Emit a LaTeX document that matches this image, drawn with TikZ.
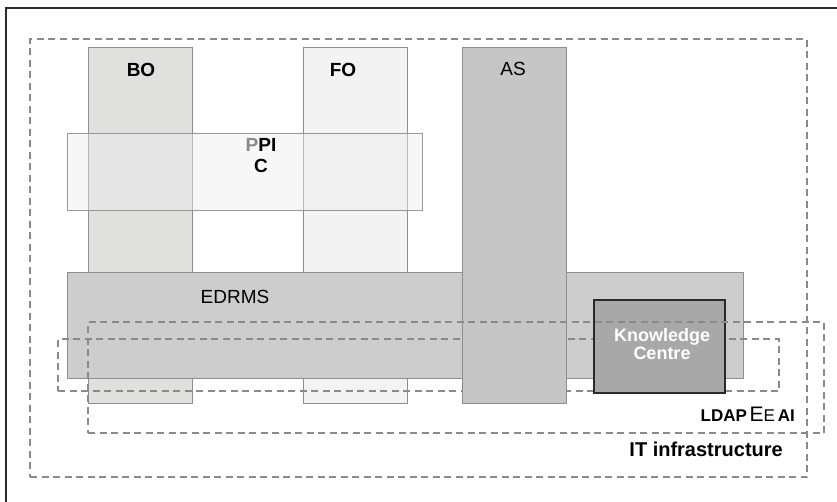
\documentclass[tikz,border=0pt]{standalone}
\usepackage{fontspec}
\setmainfont{Liberation Sans}
\definecolor{boC}{HTML}{E0E0DF}
\definecolor{foC}{HTML}{F2F3F2}
\definecolor{asC}{HTML}{C6C6C6}
\definecolor{edC}{HTML}{CDCDCD}
\definecolor{kcC}{HTML}{A8A8A8}
\definecolor{ppC}{HTML}{EDEEED}
\definecolor{edgeC}{HTML}{8E8E8E}
\definecolor{dashC}{HTML}{8A8A8A}
\definecolor{frameC}{HTML}{2A2A2A}
\begin{document}
\begin{tikzpicture}[x=1pt,y=-1pt,
  box/.style={draw=edgeC, line width=1pt, anchor=north west, inner sep=0pt, outer sep=0pt},
  zone/.style={draw=dashC, line width=1.6pt, dash pattern=on 7pt off 4.5pt, anchor=north west, inner sep=0pt, outer sep=0pt},
  lab/.style={inner sep=0pt, font=\fontsize{19}{21}\selectfont},
  blab/.style={inner sep=0pt, font=\fontsize{19}{21}\selectfont\bfseries}]
\useasboundingbox (0,0) rectangle (837,501);
% frame
\coordinate (fa) at (6,503);
\coordinate (fb) at (6,8);
\coordinate (fc) at (839,8);
\draw[frameC, line width=2pt] (fa) -- (fb) -- (fc);
% outer dashed zone
\node (outer) [zone, minimum width=777pt, minimum height=438pt] at (30,39) {};
% columns BO, FO
\node (bo) [box, fill=boC, minimum width=104pt, minimum height=356pt] at (88,47) {};
\node (fo) [box, fill=foC, minimum width=104pt, minimum height=356pt] at (303,47) {};
% PPIC
\node (ppic) [box, fill=ppC, fill opacity=0.45, draw opacity=0.9, minimum width=355pt, minimum height=77pt] at (67,133) {};
% EDRMS
\node (edrms) [box, fill=edC, minimum width=676pt, minimum height=106pt] at (67,272) {};
% LDAP zone
\node (ldap) [zone, minimum width=721pt, minimum height=52pt] at (58,339) {};
% AS column
\node (as) [box, fill=asC, minimum width=104pt, minimum height=356pt] at (462,47) {};
% Knowledge Centre
\node (kc) [draw=frameC, line width=1.3pt, fill=kcC, anchor=north west, inner sep=0pt, outer sep=0pt, minimum width=131pt, minimum height=93pt] at (594,300) {};
% IT infrastructure zone
\node (it) [zone, minimum width=736pt, minimum height=111pt] at (88,322) {};
% labels
\node (bolab) [blab] at (141,70) {BO};
\node (folab) [blab] at (343,70) {FO};
\node (aslab) [lab] at (513,69) {AS};
\node (pplab) [blab, align=center] at (261,156) {\textcolor{dashC}{P}PI\\C};
\node (edlab) [lab] at (235,297) {EDRMS};
\node (kclab) [inner sep=0pt, align=center, text=white, font=\fontsize{18}{18}\selectfont\bfseries] at (662,344) {Knowledge\\Centre};
\node (ldaplab) [inner sep=0pt, anchor=east] at (795,414) {{\fontsize{17}{19}\selectfont\bfseries LDAP} {\fontsize{21}{23}\selectfont E}{\fontsize{17}{19}\selectfont E} {\fontsize{17}{19}\selectfont\bfseries AI}};
\node (itlab) [inner sep=0pt, anchor=east, font=\fontsize{20}{22}\selectfont\bfseries] at (783,449) {IT infrastructure};
\end{tikzpicture}
\end{document}
